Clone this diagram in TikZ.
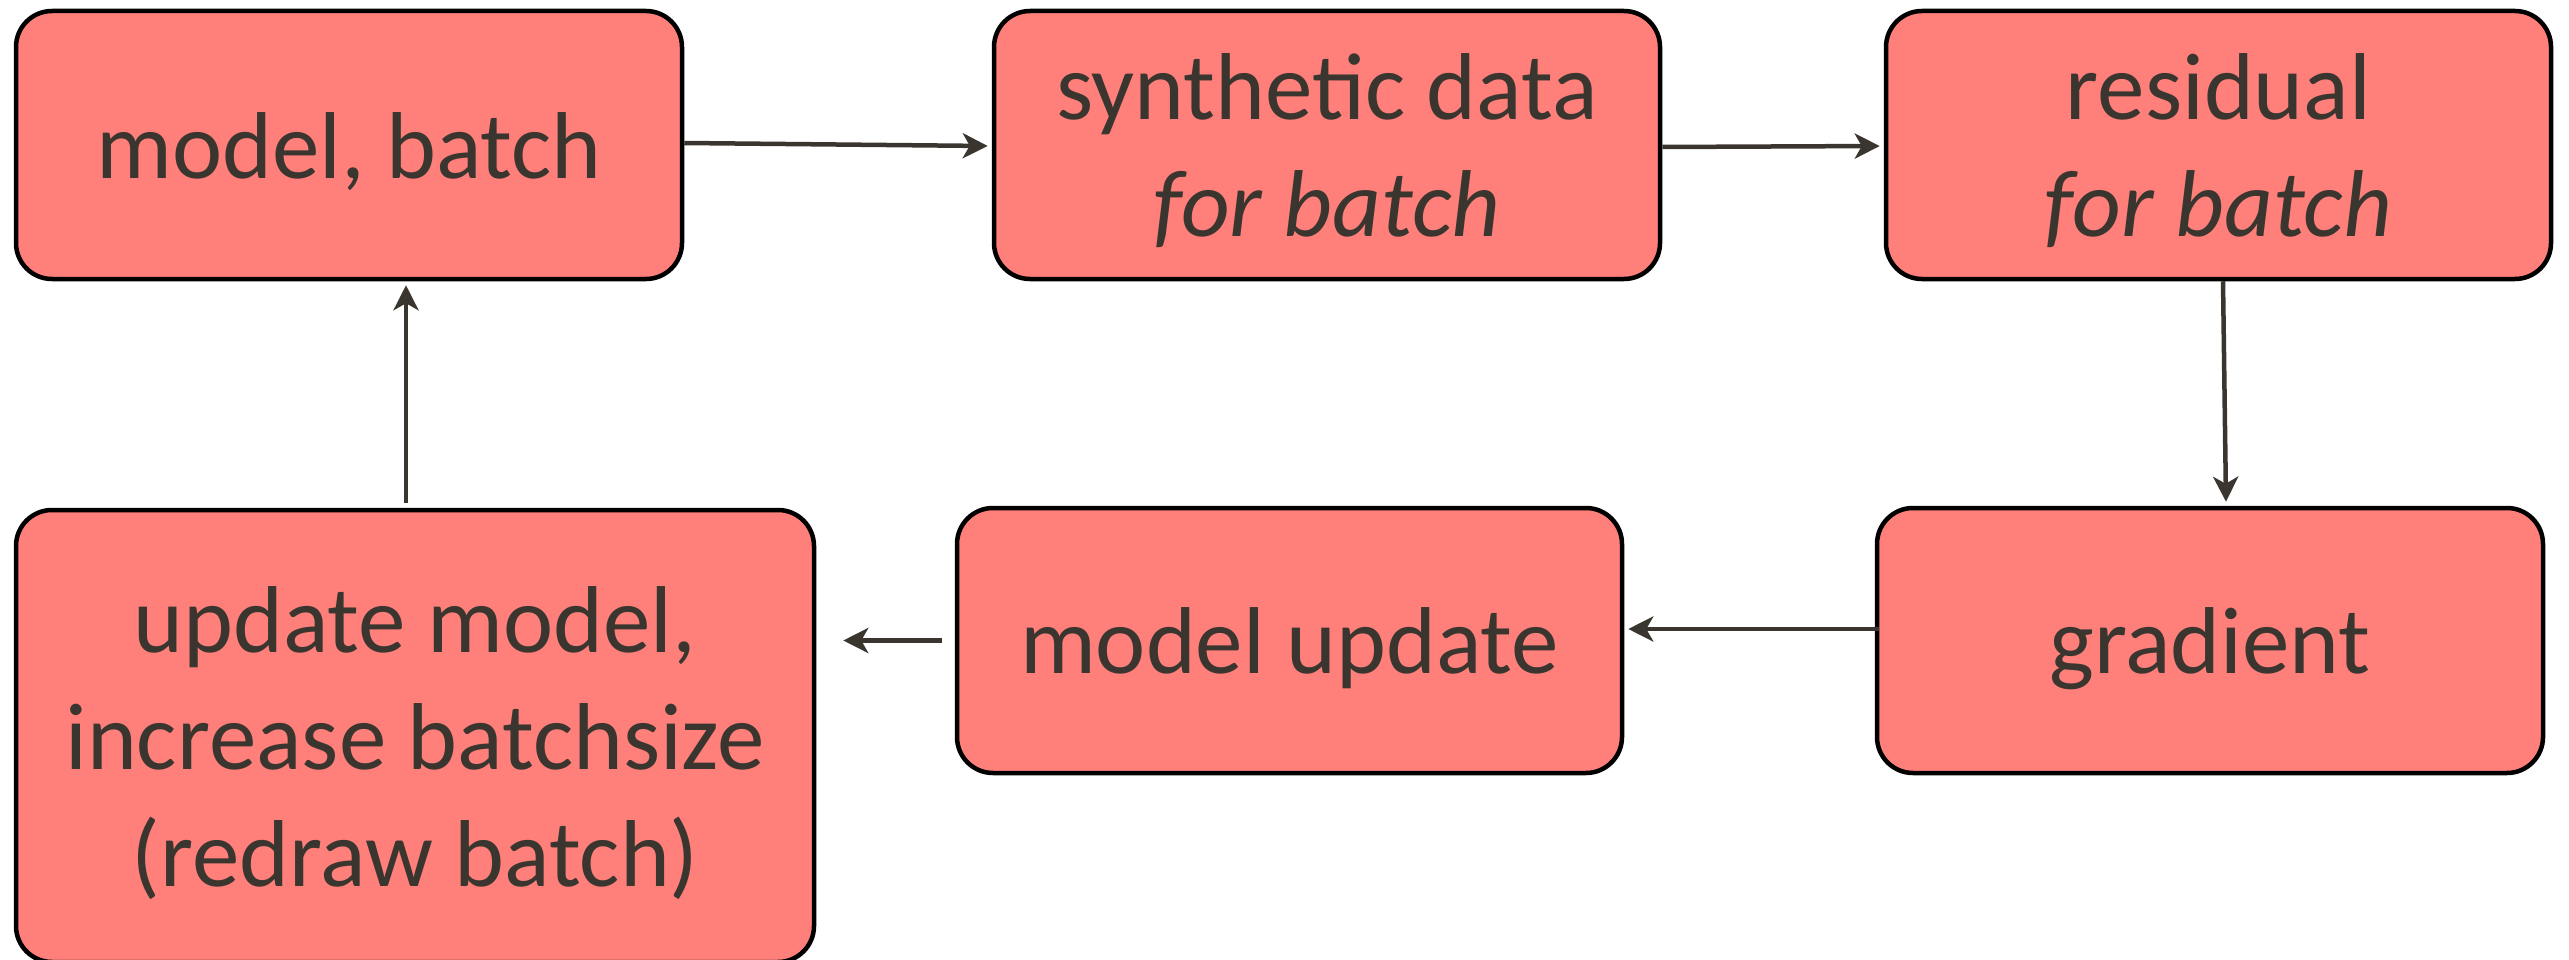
\documentclass[tikz,border=0pt]{standalone}
\usepackage{fontspec}
\setmainfont{Carlito}
\usetikzlibrary{arrows.meta}
\definecolor{boxfill}{RGB}{255,127,122}
\definecolor{ink}{RGB}{58,54,47}
\newcommand{\boxtext}[1]{\raisebox{-10pt}[\height][\depth]{\begin{tabular}{@{}c@{}}#1\end{tabular}}}
\begin{document}
\begin{tikzpicture}[x=1pt,y=-1pt,
  stagebox/.style={draw=black, fill=boxfill, line width=4.5pt, rounded corners=36pt,
    text=ink, inner sep=0pt,
    font=\fontsize{95}{117}\selectfont},
  flow/.style={draw=ink, line width=4.5pt, -{Stealth[length=25pt,width=25pt,inset=7pt]}}]
\useasboundingbox (0,0) rectangle (2569,960);
\node[stagebox, minimum width=666pt, minimum height=268pt] (b1) at (349,145) {\boxtext{model, batch}};
\node[stagebox, minimum width=666pt, minimum height=268pt] (b2) at (1327,145) {\boxtext{synthetic data\\\textit{for batch}}};
\node[stagebox, minimum width=665pt, minimum height=268pt] (b3) at (2218.5,145) {\boxtext{residual\\\textit{for batch}}};
\node[stagebox, minimum width=666pt, minimum height=265pt] (b4) at (2210,640.5) {\boxtext{gradient}};
\node[stagebox, minimum width=665pt, minimum height=265pt] (b5) at (1289.5,640.5) {\boxtext{model update}};
\node[stagebox, minimum width=798pt, minimum height=452pt] (b6) at (415,736) {\boxtext{update model,\\increase batchsize\\(redraw batch)}};
\coordinate (a5s) at ([xshift=-13pt]b5.west);
\coordinate (a5e) at ([xshift=27pt]b6.east |- a5s);
\draw[flow] ([yshift=2pt]b1.east) -- ([xshift=-4pt,yshift=-1pt]b2.west);
\draw[flow] ([yshift=-2pt]b2.east) -- ([xshift=-4pt,yshift=-1pt]b3.west);
\draw[flow] ([xshift=4.5pt]b3.south) -- ([xshift=16pt,yshift=4pt]b4.north);
\draw[flow] ([xshift=4pt,yshift=11.5pt]b4.west) -- ([xshift=4pt,yshift=11.5pt]b5.east);
\draw[flow] (a5s) -- (a5e);
\draw[flow] ([xshift=-9pt,yshift=5pt]b6.north) -- ([xshift=57pt,yshift=-4pt]b1.south);
\end{tikzpicture}
\end{document}
